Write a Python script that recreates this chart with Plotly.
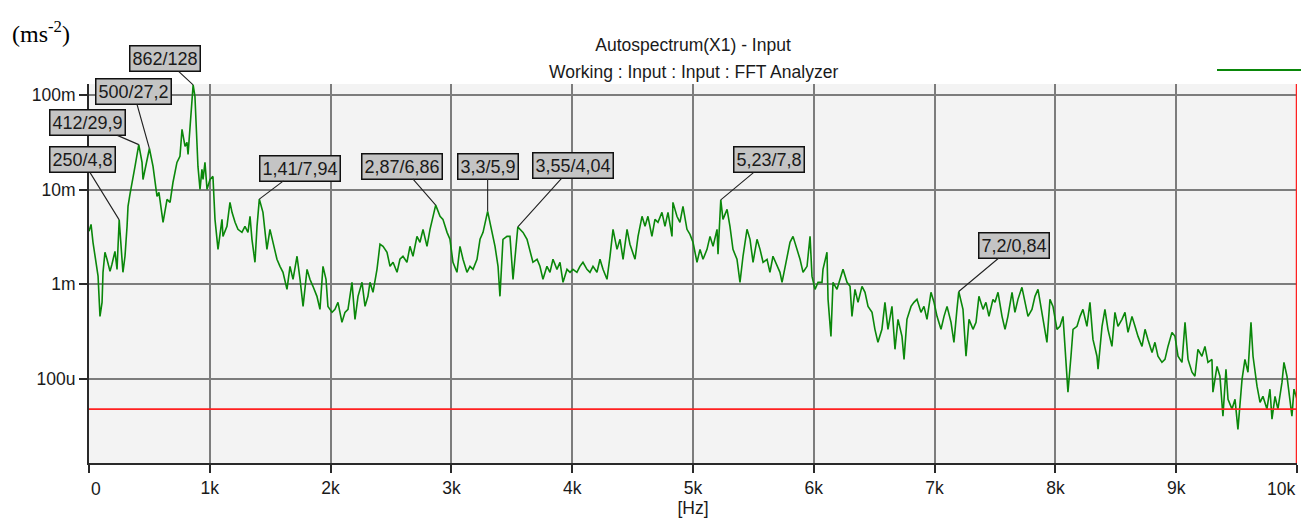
import numpy as np
import plotly.graph_objects as go

# ---------------- data ----------------
# frequency [Hz]
freq_hz = [
    0, 17, 33, 66, 75, 91, 108, 116, 132, 149, 174, 190, 215, 232, 240, 250, 281, 298, 315, 323,
    339, 356, 381, 412, 439, 447, 480, 500, 530, 563, 579, 613, 646, 671, 695, 728, 753, 770, 795, 811,
    820, 844, 862, 877, 894, 902, 919, 935, 944, 960, 977, 1002, 1026, 1043, 1068, 1101, 1109, 1142, 1167, 1184,
    1209, 1233, 1266, 1291, 1316, 1333, 1349, 1374, 1391, 1410, 1440, 1473, 1498, 1523, 1556, 1581, 1606, 1639, 1664, 1689,
    1722, 1747, 1772, 1805, 1829, 1854, 1887, 1912, 1937, 1962, 1978, 2012, 2036, 2061, 2094, 2119, 2144, 2177, 2202, 2227,
    2260, 2285, 2309, 2326, 2351, 2384, 2409, 2434, 2467, 2492, 2517, 2550, 2574, 2599, 2632, 2657, 2682, 2715, 2740, 2765,
    2798, 2823, 2848, 2870, 2906, 2930, 2964, 2988, 3013, 3046, 3071, 3096, 3129, 3154, 3179, 3212, 3237, 3262, 3300, 3336,
    3361, 3386, 3402, 3427, 3460, 3485, 3510, 3550, 3593, 3626, 3651, 3675, 3709, 3733, 3758, 3791, 3816, 3841, 3874, 3899,
    3924, 3957, 3982, 4006, 4039, 4064, 4089, 4122, 4147, 4172, 4205, 4230, 4255, 4288, 4313, 4338, 4371, 4396, 4421, 4454,
    4478, 4520, 4545, 4578, 4603, 4627, 4660, 4685, 4710, 4743, 4768, 4793, 4826, 4834, 4867, 4892, 4917, 4950, 4975, 5000,
    5033, 5058, 5083, 5116, 5141, 5166, 5199, 5207, 5230, 5248, 5282, 5306, 5331, 5364, 5389, 5414, 5447, 5472, 5497, 5530,
    5555, 5580, 5613, 5637, 5662, 5695, 5720, 5737, 5778, 5803, 5828, 5861, 5886, 5911, 5944, 5969, 5985, 6010, 6035, 6068,
    6076, 6109, 6118, 6142, 6159, 6192, 6217, 6242, 6275, 6300, 6316, 6341, 6366, 6399, 6424, 6449, 6482, 6506, 6531, 6564,
    6589, 6614, 6647, 6672, 6697, 6730, 6747, 6771, 6805, 6829, 6854, 6887, 6912, 6937, 6970, 6995, 7020, 7053, 7078, 7103,
    7136, 7160, 7185, 7200, 7235, 7260, 7285, 7318, 7343, 7367, 7401, 7425, 7450, 7483, 7500, 7525, 7558, 7583, 7607, 7641,
    7665, 7690, 7723, 7748, 7773, 7806, 7831, 7856, 7889, 7914, 7930, 7955, 7980, 8013, 8038, 8063, 8088, 8104, 8129, 8146,
    8179, 8204, 8228, 8261, 8286, 8311, 8344, 8353, 8386, 8410, 8435, 8468, 8493, 8518, 8551, 8576, 8601, 8634, 8659, 8684,
    8717, 8742, 8766, 8800, 8824, 8849, 8882, 8907, 8932, 8965, 8990, 9015, 9048, 9073, 9098, 9131, 9155, 9180, 9213, 9238,
    9263, 9296, 9304, 9338, 9362, 9387, 9412, 9429, 9462, 9487, 9511, 9545, 9569, 9594, 9619, 9636, 9669, 9694, 9718, 9751,
    9776, 9793, 9818, 9842, 9876, 9892, 9917, 9942, 9958, 9975, 10000,
]
# autospectrum level in m(ms^-2) (milli units)
amp_milli = [
    3.63, 4.30, 2.78, 1.44, 1.22, 0.459, 0.646, 1.34, 2.18, 1.84, 1.37, 1.63, 2.23, 1.44, 2.78, 4.8, 1.34, 1.98, 4.10, 6.66,
    8.92, 12.2, 17.6, 29.9, 19.4, 12.8, 20.9, 27.2, 17.6, 8.50, 9.36, 4.52, 7.90, 7.34, 11.9, 19.4, 22.5, 43.3, 28.7, 31.6,
    23.6, 55.2, 128, 96.7, 28.7, 17.6, 10.07, 16.4, 12.8, 19.4, 10.07, 12.8, 13.8, 4.86, 2.34, 4.86, 3.21, 4.10, 7.34, 5.76,
    4.52, 3.81, 3.54, 4.10, 3.54, 5.23, 2.99, 1.71, 4.10, 7.94, 5.76, 2.34, 3.81, 2.78, 1.84, 1.55, 1.34, 0.886, 1.55, 1.13,
    1.98, 1.13, 0.585, 1.44, 1.13, 0.953, 0.747, 0.544, 1.55, 1.13, 0.585, 0.506, 0.544, 0.646, 0.397, 0.506, 0.544, 1.05, 0.427, 0.747,
    1.05, 0.585, 0.747, 1.05, 0.823, 1.44, 2.65, 2.52, 2.18, 1.55, 1.71, 1.34, 1.84, 1.98, 1.71, 2.52, 1.98, 3.21, 2.78, 3.81,
    2.52, 3.81, 5.23, 6.86, 5.23, 4.86, 3.54, 2.99, 1.71, 1.34, 2.52, 1.84, 1.34, 1.55, 1.44, 1.84, 2.99, 3.54, 5.9, 3.54,
    2.52, 1.55, 0.747, 2.99, 3.21, 3.21, 1.13, 4.04, 3.54, 2.99, 2.18, 1.71, 1.84, 1.55, 1.13, 1.55, 1.34, 1.84, 1.44, 1.71,
    1.05, 1.44, 1.34, 1.44, 1.34, 1.55, 1.71, 1.44, 1.34, 1.55, 1.34, 1.84, 1.44, 1.13, 1.98, 3.81, 2.34, 2.99, 1.84, 3.81,
    2.65, 1.84, 3.21, 5.23, 4.10, 5.23, 3.21, 4.86, 4.52, 5.76, 4.10, 5.76, 3.21, 7.34, 5.23, 4.52, 6.66, 3.81, 3.37, 2.78,
    1.71, 2.34, 1.84, 2.34, 3.21, 2.52, 3.81, 2.08, 7.8, 4.86, 6.19, 4.10, 2.34, 1.84, 1.05, 1.98, 3.81, 2.99, 1.71, 2.99,
    2.34, 1.71, 1.84, 1.34, 1.98, 1.55, 1.34, 1.05, 1.84, 2.78, 3.21, 2.34, 1.84, 1.34, 1.55, 3.21, 1.22, 0.886, 1.05, 1.05,
    1.44, 2.18, 0.694, 0.282, 1.05, 0.886, 1.13, 1.44, 1.05, 0.953, 0.459, 0.886, 0.646, 0.953, 0.823, 0.585, 0.506, 0.335, 0.244, 0.335,
    0.646, 0.335, 0.585, 0.206, 0.427, 0.282, 0.161, 0.427, 0.585, 0.646, 0.694, 0.506, 0.585, 0.427, 0.823, 0.646, 0.459, 0.335, 0.459, 0.585,
    0.397, 0.244, 0.544, 0.84, 0.544, 0.174, 0.427, 0.335, 0.397, 0.747, 0.544, 0.646, 0.459, 0.694, 0.646, 0.823, 0.459, 0.335, 0.459, 0.823,
    0.506, 0.694, 0.930, 0.646, 0.459, 0.544, 0.747, 0.886, 0.506, 0.311, 0.244, 0.694, 0.585, 0.335, 0.360, 0.459, 0.150, 0.0725, 0.174, 0.335,
    0.360, 0.459, 0.544, 0.360, 0.646, 0.262, 0.174, 0.127, 0.360, 0.544, 0.335, 0.221, 0.506, 0.360, 0.427, 0.506, 0.311, 0.459, 0.360, 0.282,
    0.221, 0.335, 0.262, 0.191, 0.244, 0.174, 0.150, 0.161, 0.221, 0.311, 0.282, 0.174, 0.150, 0.397, 0.161, 0.118, 0.107, 0.206, 0.174, 0.221,
    0.150, 0.161, 0.0725, 0.136, 0.107, 0.0405, 0.127, 0.0610, 0.0481, 0.0610, 0.0294, 0.0993, 0.161, 0.118, 0.397, 0.174, 0.0840, 0.0567, 0.0656, 0.0481,
    0.0781, 0.0377, 0.0656, 0.0481, 0.0927, 0.150, 0.107, 0.0567, 0.0405, 0.0781, 0.0610,
]

# marked peaks
peak_freq_hz = [250, 412, 500, 862, 1410, 2870, 3300, 3550, 5230, 7200]
peak_amp_milli = [4.8, 29.9, 27.2, 128, 7.94, 6.86, 5.9, 4.04, 7.8, 0.84]
peak_labels = ["250/4,8", "412/29,9", "500/27,2", "862/128", "1,41/7,94",
               "2,87/6,86", "3,3/5,9", "3,55/4,04", "5,23/7,8", "7,2/0,84"]

threshold_milli = 0.048          # red reference level
cursor_freq_hz = 10000           # red cursor line

x_tick_vals = [0, 1000, 2000, 3000, 4000, 5000, 6000, 7000, 8000, 9000, 10000]
x_tick_text = ["0", "1k", "2k", "3k", "4k", "5k", "6k", "7k", "8k", "9k", "10k"]
y_tick_vals = [1e-4, 1e-3, 1e-2, 1e-1]
y_tick_text = ["100u", "1m", "10m", "100m"]

# ---------------- layout constants ----------------
W, H = 1301, 518
ML, MR, MT, MB = 89, 4, 84, 55
label_offsets_px = [(-37, -60), (-51, -22), (-16, -57), (-28, -26), (41, -31),
                    (-34, -39), (0, -45), (55, -61), (48, -40), (55, -46)]
FONT = "Liberation Sans, Arial, sans-serif"
GREEN = "#0a870a"

amp = np.array(amp_milli) * 1e-3

fig = go.Figure()
fig.add_trace(go.Scatter(x=freq_hz, y=amp, mode="lines",
                         line=dict(color=GREEN, width=1.6), hoverinfo="skip"))
fig.add_trace(go.Scatter(x=[0, 10000], y=[threshold_milli * 1e-3] * 2, mode="lines",
                         line=dict(color="#ff2020", width=1.8), hoverinfo="skip"))

annotations = []
for f, a, lab, (ax, ay) in zip(peak_freq_hz, peak_amp_milli, peak_labels, label_offsets_px):
    annotations.append(dict(
        x=f, y=np.log10(a * 1e-3), xref="x", yref="y", text=lab,
        showarrow=True, arrowhead=0, arrowwidth=1.1, arrowcolor="#222222",
        ax=ax, ay=ay, standoff=0,
        bgcolor="#c4c4c4", bordercolor="#111111", borderwidth=1.5, borderpad=2,
        font=dict(family=FONT, size=18, color="#1a1a1a"),
    ))

ph = H - MT - MB
def py(pix):
    return (H - MB - pix) / ph

annotations += [
    dict(text="Working : Input : Input : FFT Analyzer", xref="paper", yref="paper", x=0.5, y=py(72),
         xanchor="center", yanchor="middle", showarrow=False,
         font=dict(family=FONT, size=17.5, color="#1a1a1a")),
    dict(text="(ms<sup>-2</sup>)", xref="paper", yref="paper", x=(10 - ML) / (W - ML - MR), y=py(32),
         xanchor="left", yanchor="middle", showarrow=False,
         font=dict(family="Liberation Serif, Times New Roman, serif", size=24, color="#000000")),
    dict(text=x_tick_text[0], xref="paper", yref="paper", x=0, y=py(489),
         xanchor="left", yanchor="middle", showarrow=False,
         font=dict(family=FONT, size=17.5, color="#1a1a1a")),
    dict(text=x_tick_text[-1], xref="paper", yref="paper", x=1, y=py(489),
         xanchor="right", yanchor="middle", showarrow=False,
         font=dict(family=FONT, size=17.5, color="#1a1a1a")),
]

shapes = [
    # legend sample line (top right)
    dict(type="line", xref="paper", yref="paper",
         x0=(1217 - ML) / (W - ML - MR), x1=(1301 - ML) / (W - ML - MR), y0=py(70), y1=py(70),
         line=dict(color=GREEN, width=2)),
    # red cursor at the right edge
    dict(type="line", xref="x", yref="paper", x0=cursor_freq_hz, x1=cursor_freq_hz, y0=0, y1=1,
         line=dict(color="#ff2020", width=2.5)),
]

fig.update_layout(
    width=W, height=H,
    margin=dict(l=ML, r=MR, t=MT, b=MB),
    paper_bgcolor="#ffffff", plot_bgcolor="#f3f3f3",
    showlegend=False,
    title=dict(text="Autospectrum(X1) - Input", x=0.5, xref="paper", xanchor="center",
               y=1 - 45 / H, yref="container", yanchor="middle",
               font=dict(family=FONT, size=17.5, color="#1a1a1a")),
    annotations=annotations, shapes=shapes,
    xaxis=dict(range=[0, 10000], tickvals=x_tick_vals[1:-1], ticktext=x_tick_text[1:-1],
               title=dict(text="[Hz]", standoff=0,
                          font=dict(family=FONT, size=17.5, color="#1a1a1a")),
               showgrid=True, gridcolor="#7c7c7c", gridwidth=1.6,
               showline=True, linecolor="#2a2a2a", linewidth=2,
               ticks="outside", ticklen=8, tickwidth=2, tickcolor="#2a2a2a",
               minor=dict(tickvals=[x_tick_vals[0], x_tick_vals[-1]], ticks="outside",
                          ticklen=8, tickwidth=2, tickcolor="#2a2a2a", showgrid=False),
               tickfont=dict(family=FONT, size=17.5, color="#1a1a1a"),
               zeroline=False, fixedrange=True),
    yaxis=dict(type="log", range=[-4.887, -0.884], tickvals=y_tick_vals, ticktext=y_tick_text,
               showgrid=True, gridcolor="#7c7c7c", gridwidth=1.6,
               showline=True, linecolor="#2a2a2a", linewidth=2,
               ticks="outside", ticklen=8, tickwidth=2, tickcolor="#2a2a2a",
               tickfont=dict(family=FONT, size=17.5, color="#1a1a1a"),
               zeroline=False, fixedrange=True),
)

fig.write_html("out.html")
